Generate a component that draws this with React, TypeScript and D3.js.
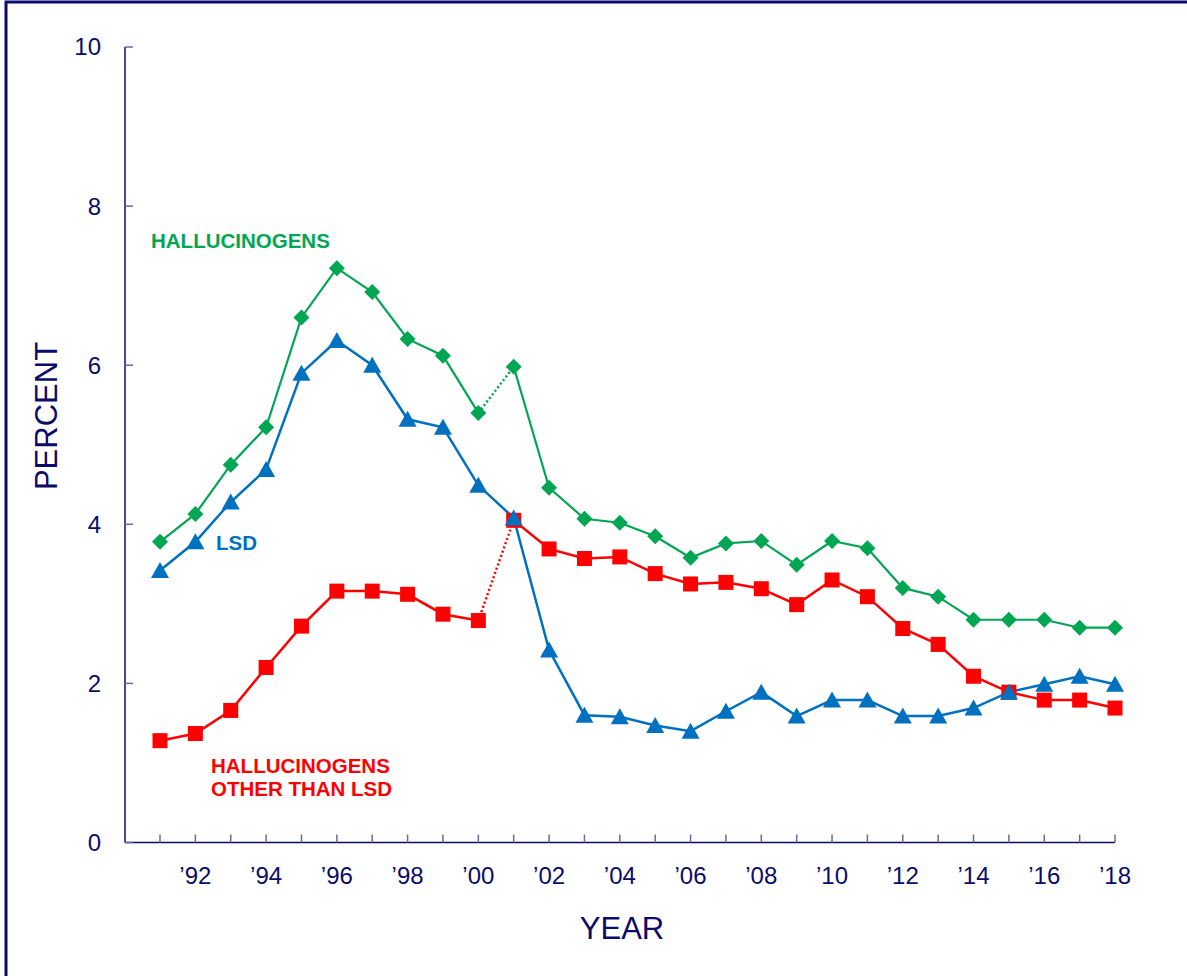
import React from "react";
import * as d3 from "d3";

const years = d3.range(1991, 2019);
const hallucinogens = [3.78, 4.13, 4.75, 5.22, 6.6, 7.22, 6.92, 6.33, 6.12, 5.4, 5.98, 4.46, 4.07, 4.02, 3.85, 3.58, 3.76, 3.79, 3.49, 3.79, 3.7, 3.2, 3.09, 2.8, 2.8, 2.8, 2.7, 2.7];
const lsd = [3.42, 3.78, 4.28, 4.69, 5.9, 6.31, 6.0, 5.32, 5.22, 4.49, 4.08, 2.42, 1.6, 1.58, 1.47, 1.4, 1.65, 1.89, 1.59, 1.79, 1.79, 1.59, 1.59, 1.69, 1.89, 1.99, 2.09, 1.99];
const otherThanLsd = [1.28, 1.37, 1.66, 2.2, 2.72, 3.16, 3.16, 3.12, 2.87, 2.79, 4.05, 3.69, 3.57, 3.59, 3.38, 3.25, 3.27, 3.19, 2.99, 3.3, 3.09, 2.69, 2.49, 2.09, 1.89, 1.79, 1.79, 1.69];
const yTicks = [0, 2, 4, 6, 8, 10];
const xLabelYears = d3.range(1992, 2019, 2);
// break (dotted) between 2000 and 2001 for these series
const breakYear = 2000;

const NAVY = "#0b0b6b";
const GREEN = "#00a651";
const BLUE = "#0070c0";
const RED = "#ff0000";
const FONT = "Liberation Sans, Arial, sans-serif";

export default function App() {
  const x = d3.scaleLinear().domain([1991, 2018]).range([160, 1115]);
  const y = d3.scaleLinear().domain([0, 10]).range([842.5, 47]);

  const line = d3
    .line<[number, number]>()
    .x((d) => x(d[0]))
    .y((d) => y(d[1]));

  const pts = (vals: number[]) => years.map((yr, i) => [yr, vals[i]] as [number, number]);

  const splitSeries = (vals: number[], dotted: boolean) => {
    const p = pts(vals);
    if (!dotted) return { solid: [p], dots: [] as [number, number][][] };
    const idx = years.indexOf(breakYear);
    return {
      solid: [p.slice(0, idx + 1), p.slice(idx + 1)],
      dots: [p.slice(idx, idx + 2)],
    };
  };

  const series = [
    { vals: otherThanLsd, color: RED, width: 2.5, dotted: true, marker: "square" },
    { vals: hallucinogens, color: GREEN, width: 2.2, dotted: true, marker: "diamond" },
    { vals: lsd, color: BLUE, width: 2.5, dotted: false, marker: "triangle" },
  ];

  const marker = (type: string, cx: number, cy: number, color: string, key: string) => {
    if (type === "square") {
      return <rect key={key} x={cx - 7.5} y={cy - 7.5} width={15} height={15} fill={color} />;
    }
    if (type === "diamond") {
      const r = 8;
      return (
        <path key={key} d={`M${cx},${cy - r}L${cx + r},${cy}L${cx},${cy + r}L${cx - r},${cy}Z`} fill={color} />
      );
    }
    const h = 15;
    const w = 18;
    return (
      <path
        key={key}
        d={`M${cx},${cy - h / 2 - 1}L${cx + w / 2},${cy + h / 2}L${cx - w / 2},${cy + h / 2}Z`}
        fill={color}
      />
    );
  };

  return (
    <svg
      width={1187}
      height={976}
      style={{ position: "absolute", left: 0, top: 0, background: "#fff" }}
      fontFamily={FONT}
    >
      <rect x={0} y={0} width={1187} height={976} fill="#fff" />
      <rect x={6} y={2} width={1300} height={1100} fill="none" stroke={NAVY} strokeWidth={3} />

      {/* axes */}
      <line x1={125} x2={125} y1={y(10)} y2={y(0)} stroke={NAVY} strokeWidth={1.5} />
      <line x1={125} x2={1115} y1={y(0)} y2={y(0)} stroke={NAVY} strokeWidth={1.5} />
      {yTicks.map((t) => (
        <g key={`yt${t}`}>
          <line x1={125} x2={133} y1={y(t)} y2={y(t)} stroke="#6a6aa0" strokeWidth={1.5} />
          <text x={101} y={y(t)} dy="0.35em" textAnchor="end" fontSize={24} fill={NAVY}>
            {t}
          </text>
        </g>
      ))}
      {years.map((yr) => (
        <line key={`xt${yr}`} x1={x(yr)} x2={x(yr)} y1={y(0)} y2={y(0) - 8} stroke="#6a6aa0" strokeWidth={1.5} />
      ))}
      {xLabelYears.map((yr) => (
        <text key={`xl${yr}`} x={x(yr)} y={876} dy="0.35em" textAnchor="middle" fontSize={24} fill={NAVY}>
          {"\u2019" + String(yr).slice(2)}
        </text>
      ))}
      <text x={622} y={928} dy="0.35em" textAnchor="middle" fontSize={31} fill={NAVY}>
        YEAR
      </text>
      <text
        transform="translate(46,416) rotate(-90)"
        dy="0.35em"
        textAnchor="middle"
        fontSize={31}
        fill={NAVY}
      >
        PERCENT
      </text>

      {/* lines */}
      {series.map((s, si) => {
        const parts = splitSeries(s.vals, s.dotted);
        return (
          <g key={`s${si}`}>
            {parts.solid.map((p, i) => (
              <path key={`l${i}`} d={line(p) || ""} fill="none" stroke={s.color} strokeWidth={s.width} />
            ))}
            {parts.dots.map((p, i) => (
              <path
                key={`d${i}`}
                d={line(p) || ""}
                fill="none"
                stroke={s.color}
                strokeWidth={2.5}
                strokeDasharray="2 2.5"
              />
            ))}
          </g>
        );
      })}
      {series.map((s, si) => (
        <g key={`m${si}`}>
          {years.map((yr, i) => marker(s.marker, x(yr), y(s.vals[i]), s.color, `m${si}-${i}`))}
        </g>
      ))}

      {/* labels */}
      <text x={151} y={241} dy="0.35em" fontSize={20.5} fontWeight="bold" fill={GREEN}>
        HALLUCINOGENS
      </text>
      <text x={216} y={543} dy="0.35em" fontSize={20.5} fontWeight="bold" fill={BLUE}>
        LSD
      </text>
      <text x={211} y={766} dy="0.35em" fontSize={20.5} fontWeight="bold" fill={RED}>
        HALLUCINOGENS
      </text>
      <text x={211} y={789} dy="0.35em" fontSize={20.5} fontWeight="bold" fill={RED}>
        OTHER THAN LSD
      </text>
    </svg>
  );
}
